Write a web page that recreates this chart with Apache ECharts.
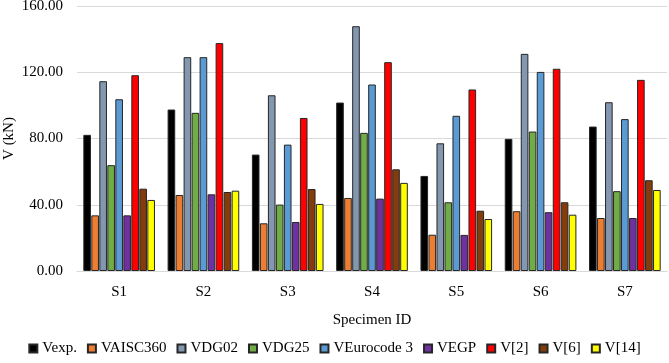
<!DOCTYPE html>
<html>
<head>
<meta charset="utf-8">
<script src="https://cdn.jsdelivr.net/npm/echarts@6/dist/echarts.min.js"></script>
<style>
  html, body { margin: 0; padding: 0; background: #fff; }
  #chart { width: 669px; height: 363px; }
</style>
</head>
<body>
<div id="chart"></div>
<script>
// specimens on the x axis
var specimens = ["S1", "S2", "S3", "S4", "S5", "S6", "S7"];

// shear capacity per method (kN)
var vExp       = [82.2, 97.5, 70.3, 101.7, 57.4, 79.8, 87.2];
var vAisc360   = [33.6, 45.9, 28.8, 44.1, 21.9, 36.1, 32.0];
var vDg02      = [114.6, 129.1, 106.1, 147.8, 77.1, 131.1, 101.9];
var vDg25      = [63.9, 95.5, 40.1, 83.4, 41.5, 84.2, 48.2];
var vEurocode3 = [103.7, 129.1, 76.3, 112.6, 93.7, 120.2, 91.7];
var vEgp       = [33.6, 46.3, 29.6, 43.7, 21.8, 35.5, 32.0];
var vRef2      = [118.2, 137.6, 92.4, 126.1, 109.6, 122.1, 115.4];
var vRef6      = [49.7, 47.7, 49.5, 61.4, 36.4, 41.5, 54.8];
var vRef14     = [42.9, 48.5, 40.5, 53.2, 31.4, 34.0, 48.9];

var yTicks = [0, 40, 80, 120, 160];

var seriesDefs = [
  { name: "Vexp.",       data: vExp,       color: "#000000" },
  { name: "VAISC360",    data: vAisc360,   color: "#ED7D31" },
  { name: "VDG02",       data: vDg02,      color: "#8497B0" },
  { name: "VDG25",       data: vDg25,      color: "#70AD47" },
  { name: "VEurocode 3", data: vEurocode3, color: "#5B9BD5" },
  { name: "VEGP",        data: vEgp,       color: "#7030A0" },
  { name: "V[2]",        data: vRef2,      color: "#FF0000" },
  { name: "V[6]",        data: vRef6,      color: "#843C0C" },
  { name: "V[14]",       data: vRef14,     color: "#FFFF00" }
];

var font = "Liberation Serif";
var chart = echarts.init(document.getElementById("chart"));

var option = {
  animation: false,
  textStyle: { fontFamily: font },
  grid: { left: 77, right: 2, top: 6, bottom: 92, outerBoundsMode: "none", containLabel: false },
  legend: {
    bottom: 2,
    left: "center",
    itemWidth: 8,
    itemHeight: 8,
    itemGap: 10,
    icon: "rect",
    textStyle: { fontFamily: font, fontSize: 15, color: "#000" },
    data: seriesDefs.map(function (s) { return s.name; })
  },
  xAxis: {
    type: "category",
    data: specimens,
    name: "Specimen ID",
    nameLocation: "middle",
    nameGap: 42,
    nameMoveOverlap: false,
    nameTextStyle: { fontFamily: font, fontSize: 15, color: "#000" },
    axisLine: { lineStyle: { color: "#d9d9d9", width: 1 } },
    axisTick: { show: false },
    axisLabel: { fontFamily: font, fontSize: 15, color: "#000", margin: 14 }
  },
  yAxis: {
    type: "value",
    min: yTicks[0],
    max: yTicks[yTicks.length - 1],
    interval: 40,
    name: "V (kN)",
    nameLocation: "middle",
    nameGap: 60,
    nameMoveOverlap: false,
    nameTextStyle: { fontFamily: font, fontSize: 15, color: "#000" },
    axisLine: { show: false },
    axisTick: { show: false },
    splitLine: { lineStyle: { color: "#d9d9d9", width: 1 } },
    axisLabel: {
      fontFamily: font, fontSize: 15, color: "#000", margin: 14,
      formatter: function (v) { return v.toFixed(2); }
    }
  },
  series: seriesDefs.map(function (s) {
    return {
      name: s.name,
      type: "bar",
      data: s.data,
      barGap: "5%",
      barCategoryGap: "15%",
      itemStyle: { color: s.color, borderColor: "#262626", borderWidth: 1 }
    };
  })
};

chart.setOption(option);
</script>
</body>
</html>
